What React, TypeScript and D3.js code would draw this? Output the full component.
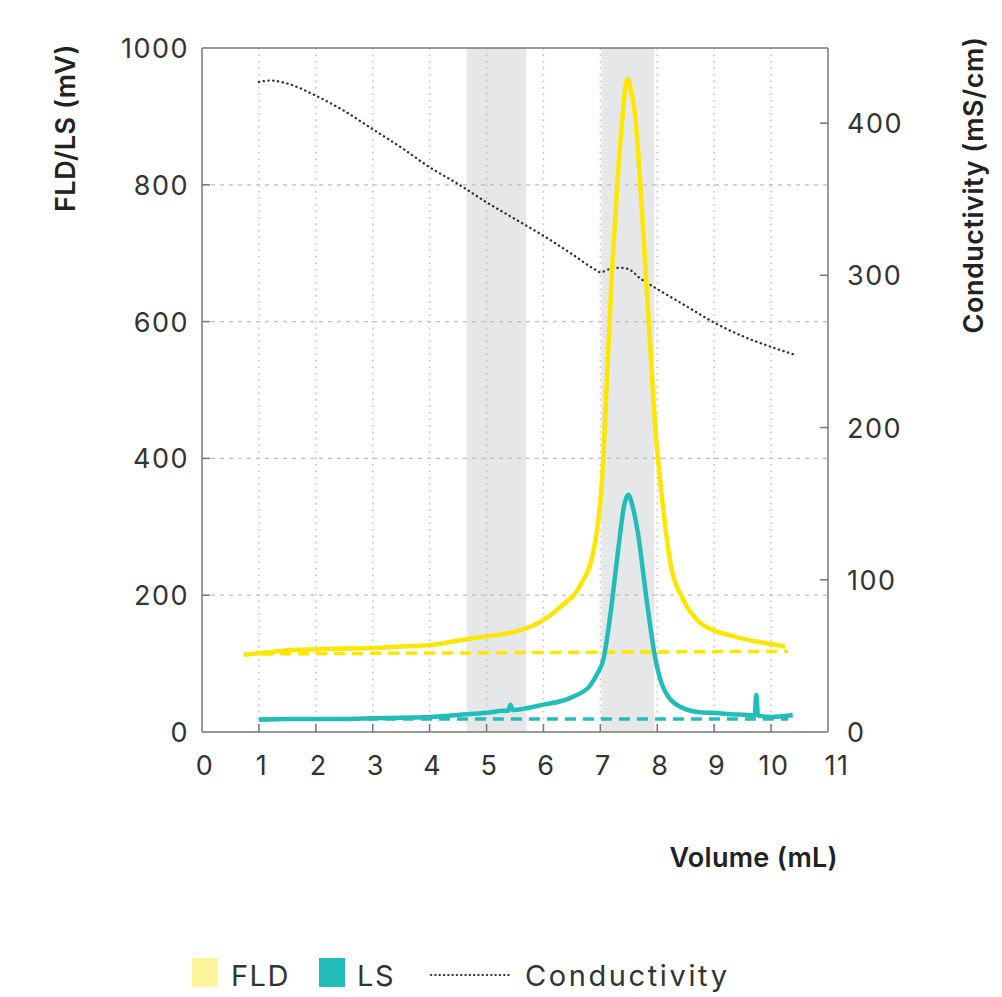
import React from "react";
import * as d3 from "d3";

const xTicks = [0, 1, 2, 3, 4, 5, 6, 7, 8, 9, 10, 11];
const yLeftTicks = [0, 200, 400, 600, 800, 1000];
const yRightTicks = [0, 100, 200, 300, 400];
const shadedBands = [
  [4.65, 5.7],
  [7.02, 7.95],
];

const volumeFLD = [0.74, 1.0, 1.56, 2.0, 2.5, 3.14, 3.5, 4.0, 4.6, 5.0, 5.47, 5.9, 6.3, 6.65, 6.88, 7.03, 7.14, 7.21, 7.3, 7.39, 7.44, 7.48, 7.53, 7.61, 7.7, 7.79, 7.88, 7.96, 8.05, 8.23, 8.46, 8.75, 8.98, 9.3, 9.58, 9.9, 10.25];
const fld = [113, 115, 120, 121, 122, 123, 125, 127, 135, 140, 146, 159, 183, 215, 265, 369, 560, 681, 804, 901, 942, 955, 942, 901, 804, 681, 560, 450, 369, 248, 193, 160, 149, 141, 135, 130, 125];

const volumeLS = [1.0, 1.5, 2.0, 2.5, 3.0, 3.5, 4.0, 4.5, 5.0, 5.3, 5.38, 5.42, 5.46, 5.72, 6.0, 6.3, 6.53, 6.82, 6.95, 7.05, 7.18, 7.32, 7.42, 7.49, 7.56, 7.65, 7.82, 7.96, 8.1, 8.4, 8.75, 8.98, 9.3, 9.58, 9.71, 9.74, 9.77, 10.0, 10.2, 10.38];
const ls = [18, 19, 19, 19, 20, 21, 22, 25, 28, 31, 31, 40, 32, 35, 40, 45, 52, 68, 86, 105, 174, 271, 332, 347, 332, 296, 189, 110, 66, 37, 29, 28, 26, 25, 24, 54, 24, 22, 23, 25];

const volumeCond = [1.0, 1.2, 1.5, 2.0, 2.5, 3.0, 3.5, 4.0, 4.5, 5.0, 5.5, 6.0, 6.5, 6.9, 7.0, 7.15, 7.35, 7.5, 7.7, 8.0, 8.5, 9.0, 9.5, 10.0, 10.4];
const cond = [427, 428, 426, 418, 408, 396, 384, 371, 360, 348, 337, 326, 314, 304, 302, 304, 305, 304, 298, 291, 280, 269, 260, 253, 248];

const volumeFLDBase = [0.74, 10.3];
const fldBase = [114, 118];
const volumeLSBase = [1.0, 10.3];
const lsBase = [19, 19];

const FLD_COLOR = "#FFE600";
const LS_COLOR = "#22BDB9";
const COND_COLOR = "#2f2f2f";
const FONT = "Inter, 'Open Sans', sans-serif";

export default function App() {
  const left = 202, right = 828, top = 48, bottom = 732;
  const x = d3.scaleLinear().domain([0, 11]).range([left, right]);
  const yL = d3.scaleLinear().domain([0, 1000]).range([bottom, top]);
  const yR = d3.scaleLinear().domain([0, 450]).range([bottom, top - 1]);

  const mk = (xs: number[], ys: number[], yScale: d3.ScaleLinear<number, number>) =>
    d3
      .line<number>()
      .x((_, i) => x(xs[i]))
      .y((v) => yScale(v))
      .curve(d3.curveMonotoneX)(ys) || "";

  const fldPath = mk(volumeFLD, fld, yL);
  const lsPath = mk(volumeLS, ls, yL);
  const condPath = mk(volumeCond, cond, yR);
  const fldBasePath = mk(volumeFLDBase, fldBase, yL);
  const lsBasePath = mk(volumeLSBase, lsBase, yL);

  const axisColor = "#777";
  const gridColor = "#bdbdbd";
  const tickFont = 27;

  return (
    <svg
      width={1002}
      height={997}
      style={{ position: "absolute", left: 0, top: 0, background: "#fff" }}
      fontFamily={FONT}
    >
      {shadedBands.map(([a, b], i) => (
        <rect key={i} x={x(a)} y={top} width={x(b) - x(a)} height={bottom - top} fill="#e6e7e8" />
      ))}
      {xTicks.filter((t) => t > 0 && t < 11).map((t) => (
        <line key={"vg" + t} x1={x(t)} x2={x(t)} y1={top} y2={bottom} stroke={gridColor} strokeWidth={1.5} strokeDasharray="1.5,5" />
      ))}
      {yLeftTicks.filter((t) => t > 0 && t < 1000).map((t) => (
        <line key={"hg" + t} x1={left} x2={right} y1={yL(t)} y2={yL(t)} stroke={gridColor} strokeWidth={1.3} strokeDasharray="4,5" />
      ))}
      <line x1={left} x2={right} y1={top} y2={top} stroke={axisColor} strokeWidth={1.5} />
      <line x1={right} x2={right} y1={top} y2={bottom} stroke={axisColor} strokeWidth={1.5} />
      <line x1={left} x2={left} y1={top} y2={bottom} stroke={axisColor} strokeWidth={1.5} />
      <line x1={left} x2={right} y1={bottom} y2={bottom} stroke={axisColor} strokeWidth={1.5} />
      {xTicks.filter((t) => t > 0 && t < 11).map((t) => (
        <line key={"xt" + t} x1={x(t)} x2={x(t)} y1={bottom} y2={bottom - 8} stroke={axisColor} strokeWidth={1.5} />
      ))}
      {yLeftTicks.filter((t) => t > 0 && t < 1000).map((t) => (
        <line key={"ylt" + t} x1={left} x2={left + 8} y1={yL(t)} y2={yL(t)} stroke={axisColor} strokeWidth={1.5} />
      ))}
      {yRightTicks.filter((t) => t > 0).map((t) => (
        <line key={"yrt" + t} x1={right} x2={right - 8} y1={yR(t)} y2={yR(t)} stroke={axisColor} strokeWidth={1.5} />
      ))}
      {xTicks.map((t) => (
        <text key={"xl" + t} x={x(t) + (t === 11 ? 9 : 3)} y={775} textAnchor="middle" fontSize={tickFont} letterSpacing={1.5} fill="#333">
          {t}
        </text>
      ))}
      {yLeftTicks.map((t) => (
        <text key={"yll" + t} x={189} y={yL(t) + 10} textAnchor="end" fontSize={tickFont} letterSpacing={1.5} fill="#333">
          {t}
        </text>
      ))}
      {yRightTicks.map((t) => (
        <text key={"yrl" + t} x={847} y={yR(t) + 10} textAnchor="start" fontSize={tickFont} letterSpacing={1.5} fill="#333">
          {t}
        </text>
      ))}
      <text transform="translate(75,128) rotate(-90)" textAnchor="middle" fontSize={27} fontWeight={600} letterSpacing={0.5} fill="#222">
        FLD/LS (mV)
      </text>
      <text transform="translate(983,185) rotate(-90)" textAnchor="middle" fontSize={27} fontWeight={600} letterSpacing={0.5} fill="#222">
        Conductivity (mS/cm)
      </text>
      <text x={838} y={867} textAnchor="end" fontSize={27} fontWeight={600} letterSpacing={0.3} fill="#222">
        Volume (mL)
      </text>
      <path d={fldBasePath} fill="none" stroke={FLD_COLOR} strokeWidth={3.5} strokeDasharray="11,7" />
      <path d={lsBasePath} fill="none" stroke={LS_COLOR} strokeWidth={3.5} strokeDasharray="11,7" />
      <path d={condPath} fill="none" stroke={COND_COLOR} strokeWidth={2.3} strokeDasharray="0.3,4.5" strokeLinecap="round" />
      <path d={fldPath} fill="none" stroke={FLD_COLOR} strokeWidth={4.5} strokeLinejoin="round" />
      <path d={lsPath} fill="none" stroke={LS_COLOR} strokeWidth={4.5} strokeLinejoin="round" />
      <rect x={192} y={958} width={26} height={29} fill="#FFF59D" />
      <text x={231} y={986} fontSize={29} letterSpacing={1.5} fill="#333">FLD</text>
      <rect x={319} y={958} width={26} height={29} fill={LS_COLOR} />
      <text x={357} y={986} fontSize={29} letterSpacing={1.5} fill="#333">LS</text>
      <line x1={431} x2={512} y1={975} y2={975} stroke={COND_COLOR} strokeWidth={2.2} strokeDasharray="0.3,4" strokeLinecap="round" />
      <text x={525} y={986} fontSize={29} letterSpacing={2.6} fill="#333">Conductivity</text>
    </svg>
  );
}
